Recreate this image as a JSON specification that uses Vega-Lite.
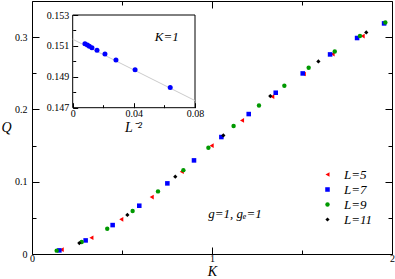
{
  "$schema": "https://vega.github.io/schema/vega-lite/v6.json",
  "width": 360,
  "height": 253,
  "autosize": {"type": "none"},
  "padding": {"left": 32, "top": 1, "right": 3, "bottom": 25},
  "config": {
    "view": {"stroke": "black", "strokeWidth": 1},
    "font": "Liberation Serif, Times New Roman, serif",
    "axis": {
      "labelFont": "Liberation Serif, Times New Roman, serif", "labelFontSize": 10, "labelColor": "black",
      "tickColor": "black", "tickWidth": 1, "domain": false, "grid": false,
      "titleFont": "Liberation Serif, Times New Roman, serif", "titleFontStyle": "italic", "titleFontWeight": "normal",
      "titleColor": "black", "labelFlush": false, "labelOverlap": false
    },
    "legend": {
      "labelFont": "Liberation Serif, Times New Roman, serif", "labelFontStyle": "italic", "labelFontSize": 13,
      "labelColor": "black", "symbolSize": 12, "rowPadding": 1, "padding": 0, "labelOffset": 10
    }
  },
  "datasets": {
    "main": [
      {"L": 5, "K": 0.165, "Q": 0.006}, {"L": 5, "K": 0.33, "Q": 0.0225}, {"L": 5, "K": 0.496, "Q": 0.048},
      {"L": 5, "K": 0.665, "Q": 0.0788}, {"L": 5, "K": 0.832, "Q": 0.1138}, {"L": 5, "K": 0.998, "Q": 0.1498},
      {"L": 5, "K": 1.167, "Q": 0.1848}, {"L": 5, "K": 1.335, "Q": 0.2176}, {"L": 5, "K": 1.51, "Q": 0.249},
      {"L": 5, "K": 1.67, "Q": 0.2766}, {"L": 5, "K": 1.837, "Q": 0.3015},
      {"L": 7, "K": 0.152, "Q": 0.005}, {"L": 7, "K": 0.298, "Q": 0.0188}, {"L": 7, "K": 0.448, "Q": 0.04},
      {"L": 7, "K": 0.596, "Q": 0.0668}, {"L": 7, "K": 0.752, "Q": 0.0977}, {"L": 7, "K": 0.9, "Q": 0.1295},
      {"L": 7, "K": 1.052, "Q": 0.1618}, {"L": 7, "K": 1.204, "Q": 0.1936}, {"L": 7, "K": 1.354, "Q": 0.2231},
      {"L": 7, "K": 1.504, "Q": 0.2498}, {"L": 7, "K": 1.656, "Q": 0.2761}, {"L": 7, "K": 1.806, "Q": 0.2988},
      {"L": 7, "K": 1.956, "Q": 0.319},
      {"L": 9, "K": 0.137, "Q": 0.0046}, {"L": 9, "K": 0.276, "Q": 0.0166}, {"L": 9, "K": 0.418, "Q": 0.035},
      {"L": 9, "K": 0.559, "Q": 0.0595}, {"L": 9, "K": 0.7, "Q": 0.0866}, {"L": 9, "K": 0.841, "Q": 0.116},
      {"L": 9, "K": 0.98, "Q": 0.147}, {"L": 9, "K": 1.12, "Q": 0.177}, {"L": 9, "K": 1.261, "Q": 0.2055},
      {"L": 9, "K": 1.402, "Q": 0.2328}, {"L": 9, "K": 1.537, "Q": 0.2577}, {"L": 9, "K": 1.682, "Q": 0.2802},
      {"L": 9, "K": 1.822, "Q": 0.3015}, {"L": 9, "K": 1.963, "Q": 0.3203},
      {"L": 11, "K": 0.263, "Q": 0.0152}, {"L": 11, "K": 0.53, "Q": 0.054}, {"L": 11, "K": 0.796, "Q": 0.107},
      {"L": 11, "K": 1.063, "Q": 0.164}, {"L": 11, "K": 1.324, "Q": 0.2185}, {"L": 11, "K": 1.591, "Q": 0.2664},
      {"L": 11, "K": 1.857, "Q": 0.3065}
    ],
    "mainText": [{"K": 0.979, "Q": 0.0557, "t": "g=1, gₑ=1"}],
    "inset": [
      {"x": 0.008, "y": 0.15114}, {"x": 0.0096, "y": 0.15106}, {"x": 0.0109, "y": 0.15097},
      {"x": 0.0126, "y": 0.15088}, {"x": 0.0159, "y": 0.15072}, {"x": 0.0211, "y": 0.15048},
      {"x": 0.0283, "y": 0.15009}, {"x": 0.0408, "y": 0.14946}, {"x": 0.0638, "y": 0.1483}
    ],
    "insetFit": [{"x": 0, "y": 0.15143}, {"x": 0.08, "y": 0.14746}],
    "insetFrame": [{"x": 0, "x2": 0.08, "y": 0.147, "y2": 0.153}],
    "insetText": [{"x": 0.0615, "y": 0.1516, "t": "K=1"}]
  },
  "layer": [
    {
      "layer": [
        {
          "data": {"name": "main"},
          "mark": {"type": "point", "filled": true, "opacity": 1, "strokeWidth": 0},
          "encoding": {
            "x": {
              "field": "K", "type": "quantitative",
              "scale": {"domain": [0, 2], "nice": false, "zero": false},
              "axis": {
                "orient": "bottom", "values": [0, 0.5, 1, 1.5, 2],
                "labelExpr": "round(datum.value*2)%2==0 ? format(datum.value,'~g') : ''",
                "tickSize": {"condition": {"test": "round(datum.value*2)%2==0", "value": -7}, "value": -4},
                "labelPadding": 6,
                "title": "K", "titleFontSize": 14, "titleX": 180, "titleY": 17, "titleAngle": 0,
                "titleAlign": "center", "titleBaseline": "middle"
              }
            },
            "y": {
              "field": "Q", "type": "quantitative",
              "scale": {"domain": [0, 0.35], "nice": false, "zero": false},
              "axis": {
                "orient": "left", "values": [0, 0.05, 0.1, 0.15, 0.2, 0.25, 0.3],
                "labelExpr": "round(datum.value*20)%2==0 ? format(datum.value,'~g') : ''",
                "tickSize": {"condition": {"test": "round(datum.value*20)%2==0", "value": -7}, "value": -4},
                "labelPadding": 12,
                "title": "Q", "titleFontSize": 14, "titleX": -26, "titleY": 126, "titleAngle": 0,
                "titleAlign": "center", "titleBaseline": "middle"
              }
            },
            "color": {
              "field": "L", "type": "ordinal",
              "scale": {"domain": [5, 7, 9, 11], "range": ["#ff0000", "#0000ff", "#009900", "#000000"]},
              "legend": {"title": null, "orient": "none", "legendX": 289, "legendY": 167, "labelExpr": "'L=' + datum.label"}
            },
            "shape": {
              "field": "L", "type": "ordinal",
              "scale": {"domain": [5, 7, 9, 11], "range": ["triangle-left", "square", "circle", "diamond"]},
              "legend": {"title": null, "orient": "none", "legendX": 289, "legendY": 167, "labelExpr": "'L=' + datum.label"}
            },
            "size": {
              "field": "L", "type": "ordinal",
              "scale": {"domain": [5, 7, 9, 11], "range": [22, 18, 25, 26]},
              "legend": null
            }
          }
        },
        {
          "data": {"name": "mainText"},
          "mark": {"type": "text", "font": "Liberation Serif, Times New Roman, serif", "fontStyle": "italic", "fontSize": 13, "align": "left", "baseline": "middle", "color": "black"},
          "encoding": {
            "x": {"field": "K", "type": "quantitative"},
            "y": {"field": "Q", "type": "quantitative"},
            "text": {"field": "t"}
          }
        }
      ]
    },
    {
      "data": {"name": "main"},
      "mark": {"type": "point", "opacity": 0},
      "encoding": {
        "x": {
          "field": "K", "type": "quantitative",
          "scale": {"domain": [0, 2], "nice": false, "zero": false},
          "axis": {
            "orient": "top", "values": [0, 0.5, 1, 1.5, 2], "labels": false, "title": null,
            "tickSize": {"condition": {"test": "round(datum.value*2)%2==0", "value": -7}, "value": -4}
          }
        },
        "y": {
          "field": "Q", "type": "quantitative",
          "scale": {"domain": [0, 0.35], "nice": false, "zero": false},
          "axis": {
            "orient": "right", "values": [0, 0.05, 0.1, 0.15, 0.2, 0.25, 0.3], "labels": false, "title": null,
            "tickSize": {"condition": {"test": "round(datum.value*20)%2==0", "value": -7}, "value": -4}
          }
        }
      }
    },
    {
      "layer": [
        {
          "data": {"name": "insetFrame"},
          "mark": {"type": "rect", "fill": "white", "fillOpacity": 0, "stroke": "black", "strokeWidth": 1},
          "encoding": {
            "x": {"field": "x", "type": "quantitative"},
            "x2": {"field": "x2"},
            "y": {"field": "y", "type": "quantitative"},
            "y2": {"field": "y2"}
          }
        },
        {
          "data": {"name": "insetFit"},
          "mark": {"type": "line", "color": "#cccccc", "strokeWidth": 1},
          "encoding": {
            "x": {"field": "x", "type": "quantitative"},
            "y": {"field": "y", "type": "quantitative"}
          }
        },
        {
          "data": {"name": "inset"},
          "mark": {"type": "point", "shape": "circle", "filled": true, "opacity": 1, "color": "#0000ff", "size": 25, "strokeWidth": 0},
          "encoding": {
            "x": {
              "field": "x", "type": "quantitative",
              "scale": {"domain": [0, 0.08], "range": [40.7, 163], "nice": false, "zero": false},
              "axis": {
                "orient": "bottom", "offset": -146.3, "values": [0, 0.02, 0.04, 0.06, 0.08],
                "labelExpr": "round(datum.value*50)%2==0 ? format(datum.value,'~g') : ''",
                "tickSize": {"condition": {"test": "round(datum.value*50)%2==0", "value": -5}, "value": -3},
                "labelPadding": 6,
                "title": "L⁻²", "titleFontSize": 14, "titleX": 101, "titleY": 20, "titleAngle": 0,
                "titleAlign": "center", "titleBaseline": "middle"
              }
            },
            "y": {
              "field": "y", "type": "quantitative",
              "scale": {"domain": [0.147, 0.153], "range": [106.7, 14], "nice": false, "zero": false},
              "axis": {
                "orient": "left", "offset": -40.7,
                "values": [0.147, 0.148, 0.149, 0.15, 0.151, 0.152, 0.153],
                "labelExpr": "round(datum.value*1000)%2==1 ? format(datum.value,'.3f') : ''",
                "tickSize": {"condition": {"test": "round(datum.value*1000)%2==1", "value": -5}, "value": -3},
                "labelPadding": 9,
                "title": null
              }
            }
          }
        },
        {
          "data": {"name": "insetText"},
          "mark": {"type": "text", "font": "Liberation Serif, Times New Roman, serif", "fontStyle": "italic", "fontSize": 13, "align": "center", "baseline": "middle", "color": "black"},
          "encoding": {
            "x": {"field": "x", "type": "quantitative"},
            "y": {"field": "y", "type": "quantitative"},
            "text": {"field": "t"}
          }
        }
      ]
    }
  ],
  "resolve": {"scale": {"x": "independent", "y": "independent"}}
}
